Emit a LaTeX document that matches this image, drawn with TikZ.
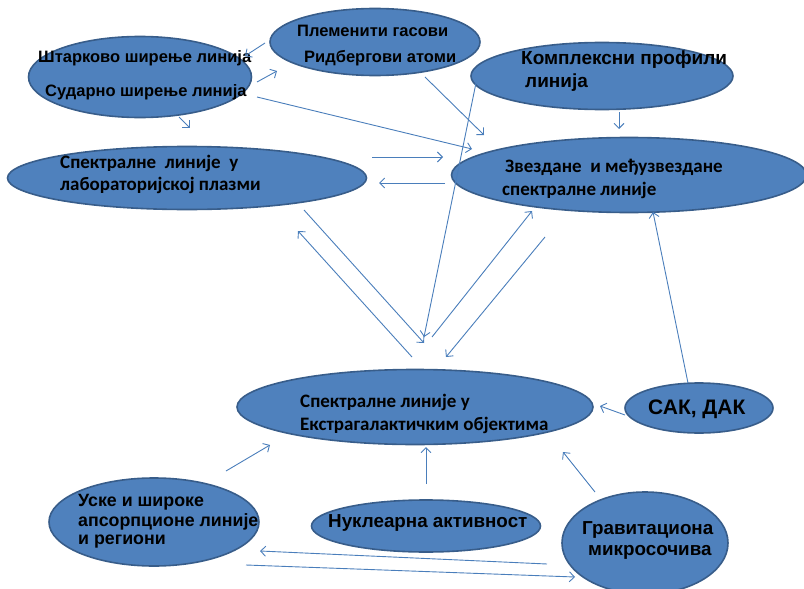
\documentclass[tikz,border=0pt]{standalone}
\usepackage{fontspec}
\setmainfont{Liberation Sans}
\newfontfamily\calib{Carlito}
\usetikzlibrary{arrows.meta, shapes.geometric}

\definecolor{blobfill}{HTML}{4F81BD}
\definecolor{blobline}{HTML}{385D8A}
\definecolor{linkblue}{HTML}{4A7EBB}

\begin{document}
\begin{tikzpicture}[
    x=1pt,
    y=-1pt,
    >={Straight Barb[length=5pt,width=10pt]},
    blob/.style={
        draw=blobline,
        fill=blobfill,
        ellipse,
        line width=1.6pt,
        inner sep=0pt
    },
    lbl/.style={anchor=west, inner sep=0pt, font=\bfseries\fontsize{16.5}{18}\selectfont},
    callbl/.style={anchor=west, inner sep=0pt, font=\calib\bfseries\fontsize{19}{21}\selectfont},
    link/.style={->, draw=linkblue, line width=0.9pt}
]
\useasboundingbox (0,0) rectangle (804,589);

% ellipses
\node[blob, minimum width=223pt, minimum height=81pt] (stark) at (140,77) {};
\node[blob, minimum width=210pt, minimum height=67pt] (plem) at (375,42) {};
\node[blob, minimum width=262pt, minimum height=67pt] (kompl) at (602,76) {};
\node[blob, minimum width=355pt, minimum height=75pt] (zvezd) at (629,175) {};
\node[blob, minimum width=359pt, minimum height=63pt] (lab) at (187,178) {};
\node[blob, minimum width=356pt, minimum height=75pt] (extra) at (415,407) {};
\node[blob, minimum width=148pt, minimum height=50pt] (sak) at (699,408) {};
\node[blob, minimum width=210pt, minimum height=88pt] (uske) at (154,522) {};
\node[blob, minimum width=229pt, minimum height=52pt] (nukl) at (426,526) {};
\node[blob, minimum width=166pt, minimum height=102pt] (grav) at (645,543) {};

% texts
\node[lbl] (stark1) at (38,58) {Штарково ширење линија};
\node[lbl] (stark2) at (45,92) {Сударно ширење линија};
\node[lbl] (plem1) at (297,31) {Племенити гасови};
\node[lbl] (plem2) at (304,58) {Ридбергови атоми};
\node[lbl, font=\bfseries\fontsize{19}{21}\selectfont] (kompl1) at (521,60) {Комплексни профили};
\node[lbl, font=\bfseries\fontsize{19}{21}\selectfont] (kompl2) at (525,83) {линија};
\node[callbl] (zvezd1) at (505,167) {Звездане ~и међузвездане};
\node[callbl] (zvezd2) at (502,190) {спектралне линије};
\node[callbl] (lab1) at (60,163) {Спектралне ~линије ~у};
\node[callbl] (lab2) at (60,185) {лабораторијској плазми};
\node[callbl] (extra1) at (300,402) {Спектралне линије у};
\node[callbl] (extra2) at (300,425) {Екстрагалактичким објектима};
\node[lbl, font=\bfseries\fontsize{21}{23}\selectfont] (sak1) at (648,409) {САК, ДАК};
\node[lbl, font=\bfseries\fontsize{17.8}{19}\selectfont] (uske1) at (78,502) {Уске и широке};
\node[lbl, font=\bfseries\fontsize{17.8}{19}\selectfont] (uske2) at (78,522) {апсорпционе линије};
\node[lbl, font=\bfseries\fontsize{17.8}{19}\selectfont] (uske3) at (78,542) {и региони};
\node[lbl, font=\bfseries\fontsize{18.8}{20}\selectfont] (nukl1) at (328,523) {Нуклеарна активност};
\node[lbl, font=\bfseries\fontsize{18.8}{20}\selectfont] (grav1) at (582,530) {Гравитациона};
\node[lbl, font=\bfseries\fontsize{18.8}{20}\selectfont] (grav2) at (588,552) {микросочива};

% arrow ends
\coordinate (a1) at (265,43);  \coordinate (a2) at (245,56);
\coordinate (b1) at (257,82);  \coordinate (b2) at (277,71);
\coordinate (c1) at (257,97);  \coordinate (c2) at (472,149);
\coordinate (d1) at (425,77);  \coordinate (d2) at (484,135);
\coordinate (e1) at (179,117); \coordinate (e2) at (190,128);
\coordinate (f1) at (619,112); \coordinate (f2) at (619,129);
\coordinate (g1) at (372,157); \coordinate (g2) at (443,157);
\coordinate (h1) at (445,183); \coordinate (h2) at (379,183);
\coordinate (i1) at (476,83);  \coordinate (i2) at (424,337);
\coordinate (j1) at (304,210); \coordinate (j2) at (424,343);
\coordinate (k1) at (412,357); \coordinate (k2) at (298,231);
\coordinate (l1) at (432,337); \coordinate (l2) at (532,211);
\coordinate (m1) at (545,237); \coordinate (m2) at (446,357);
\coordinate (n1) at (688,383); \coordinate (n2) at (653,212);
\coordinate (o1) at (625,415); \coordinate (o2) at (600,406);
\coordinate (p1) at (226,471); \coordinate (p2) at (270,445);
\coordinate (q1) at (426,484); \coordinate (q2) at (426,447);
\coordinate (r1) at (595,492); \coordinate (r2) at (563,452);
\coordinate (s1) at (547,564); \coordinate (s2) at (260,551);
\coordinate (t1) at (246,565); \coordinate (t2) at (575,577);

\foreach \s in {a,b,c,d,e,f,g,h,i,j,k,l,m,n,o,p,q,r,s,t}
    \draw[link] (\s1) -- (\s2);

\end{tikzpicture}
\end{document}
